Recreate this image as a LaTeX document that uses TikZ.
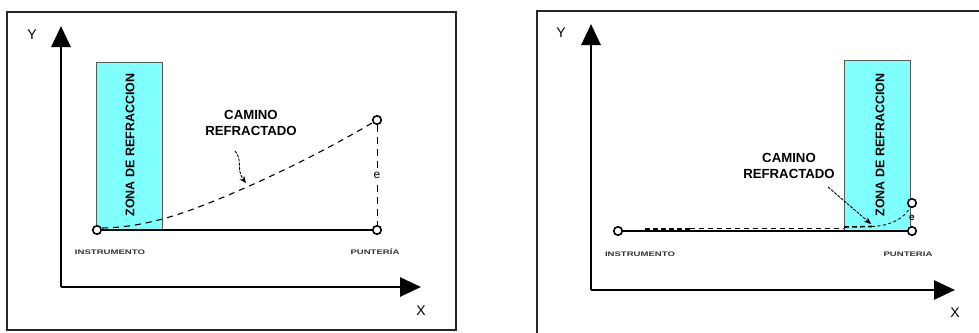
\documentclass[tikz,border=0pt]{standalone}
\usepackage{fontspec}
\setmainfont{Liberation Sans}
\usetikzlibrary{arrows.meta}
\definecolor{zona}{RGB}{128,255,255}
\tikzset{
  frame/.style={draw=black!85, line width=2.4pt},
  axis/.style={line width=2.8pt, -{Triangle[length=21pt,width=19pt]}},
  zonebox/.style={draw=black!65, line width=0.8pt, fill=zona},
  zonetext/.style={font=\fontsize{12.5}{13}\selectfont\bfseries, rotate=90},
  pathlabel/.style={font=\fontsize{13.2}{15.5}\selectfont\bfseries, align=center, inner sep=0pt},
  pointlabel/.style={font=\fontsize{6.6}{7}\selectfont\bfseries, text=black!80, xscale=1.45, inner sep=0pt},
  axislabel/.style={font=\fontsize{14}{14}\selectfont, inner sep=0pt},
  station/.style={circle, draw, line width=1.6pt, fill=white, minimum size=8.5pt, inner sep=0pt},
  baseline/.style={line width=1.8pt},
  refracted/.style={line width=1.1pt, dash pattern=on 6pt off 5pt},
  pointer/.style={line width=0.9pt, dash pattern=on 3pt off 1.2pt, -{Stealth[length=7pt,width=6pt]}},
}
\begin{document}
\begin{tikzpicture}[x=1pt, y=-1pt]
\useasboundingbox (0,0) rectangle (979,332);

% ---------- left panel: refraction zone next to the instrument ----------
\draw[frame] (7,12) rectangle (456,330);
\coordinate (oA) at (61,287);
\coordinate (yA) at (61,26);
\coordinate (xA) at (421,287);
\draw[axis] (oA) -- (yA);
\draw[axis] (oA) -- (xA);
\node[axislabel] (ylabA) at (32,35) {Y};
\node[axislabel] (xlabA) at (421,311) {X};

\node[zonebox, minimum width=66pt, minimum height=168pt, inner sep=0pt] (zoneA) at (129,146) {};
\node[zonetext] (zonelabA) at (130,145) {ZONA DE REFRACCION};

\node[station] (insA) at (97,230) {};
\node[station] (punA) at (377,230) {};
\node[station] (topA) at (377,120) {};
\draw[baseline] (insA) -- (punA);
\draw[line width=1pt, dash pattern=on 7pt off 5pt] (topA) -- node[fill=white, inner sep=1.5pt, font=\fontsize{12}{12}\selectfont] (eA) {e} (punA);
\draw[refracted] (insA.east) ++(0,-2) coordinate (startA)
  .. controls (150,227) and (190,212) .. (247,187)
  .. controls (290,168) and (335,145) .. (topA);

\node[pathlabel] (camA) at (251,123) {CAMINO\\REFRACTADO};
\coordinate (ptrA) at (246,183);
\draw[pointer] (235,151) .. controls (243,160) and (236,170) .. (ptrA);

\node[pointlabel] (insLabA) at (110,252) {INSTRUMENTO};
\node[pointlabel] (punLabA) at (375,252) {PUNTERÍA};

% ---------- right panel: refraction zone next to the target ----------
\draw[frame] (537,11) rectangle (1000,345);
\coordinate (oB) at (591,290);
\coordinate (yB) at (591,24);
\coordinate (xB) at (955,290);
\draw[axis] (oB) -- (yB);
\draw[axis] (oB) -- (xB);
\node[axislabel] (ylabB) at (561,33) {Y};
\node[axislabel] (xlabB) at (955,313) {X};

\node[zonebox, minimum width=66pt, minimum height=171pt, inner sep=0pt] (zoneB) at (877,145.5) {};
\node[zonetext] (zonelabB) at (880,145) {ZONA DE REFRACCION};

\node[station] (insB) at (618,231) {};
\node[station] (punB) at (912,231) {};
\node[station] (topB) at (912,203) {};
\draw[baseline] (insB) -- (punB);
\node[font=\fontsize{10}{10}\selectfont\bfseries, inner sep=0pt] (eB) at (912,218) {e};

\draw[line width=2pt, dash pattern=on 5pt off 3pt] (645,229) -- (690,229);
\draw[line width=0.9pt, dash pattern=on 5pt off 4pt] (690,228.5) -- (844,228.5);
\draw[line width=1.6pt, dash pattern=on 5pt off 3pt] (844,227) -- (872,226.5);
\draw[line width=0.9pt, dash pattern=on 3pt off 2.5pt] (872,226.5)
  .. controls (890,226) and (905,218) .. (topB);

\node[pathlabel] (camB) at (789,166) {CAMINO\\REFRACTADO};
\coordinate (ptrB) at (871,224);
\draw[pointer] (828,187) -- (ptrB);

\node[pointlabel] (insLabB) at (640,254) {INSTRUMENTO};
\node[pointlabel] (punLabB) at (908,254) {PUNTERIA};
\end{tikzpicture}
\end{document}
